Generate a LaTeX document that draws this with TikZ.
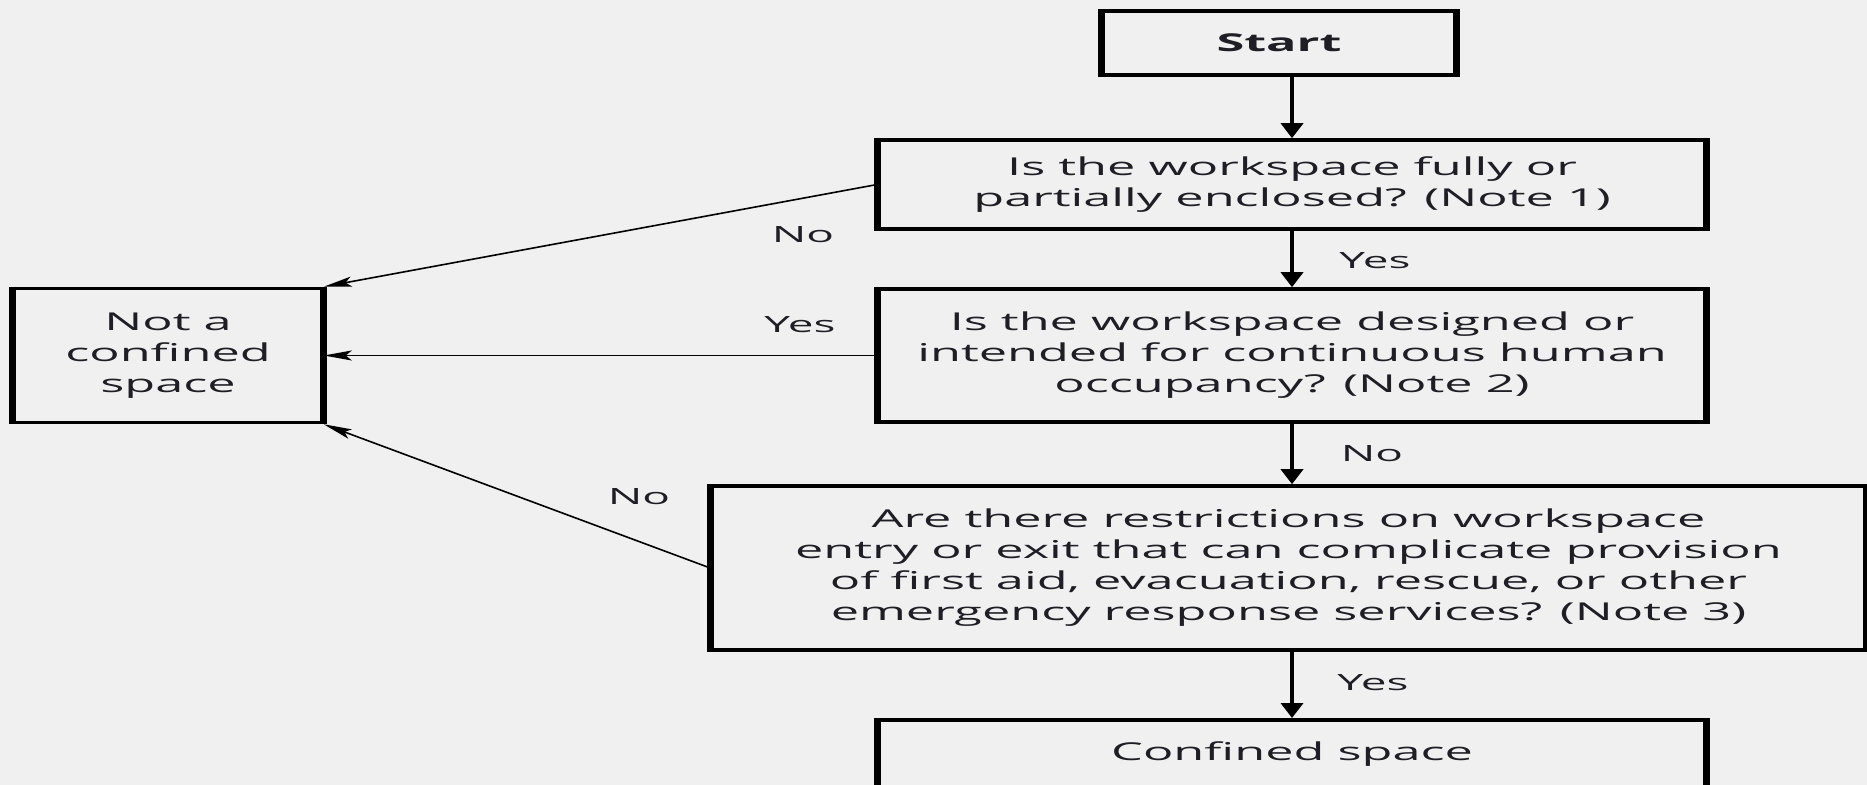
\documentclass[tikz,border=0pt]{standalone}
\usepackage{fontspec}
\usetikzlibrary{arrows.meta}
\newfontfamily\dfont[FakeStretch=2.05]{Open Sans}
\definecolor{bg}{HTML}{F0F0F0}
\definecolor{txt}{HTML}{1E1E24}
\tikzset{
  box/.style={draw=black, line width=1.8pt, align=center, inner sep=0pt, text=txt,
    font=\dfont\fontsize{12.3}{15.5}\selectfont,
    append after command={(\tikzlastnode.north west) edge[line width=3.5pt] (\tikzlastnode.south west)
                          (\tikzlastnode.north east) edge[line width=3.5pt] (\tikzlastnode.south east)}},
  lbl/.style={inner sep=0pt, text=txt, font=\dfont\fontsize{11.2}{13}\selectfont},
  down/.style={line width=2pt, -{Triangle[width=11pt,length=7.5pt]}},
  side/.style={line width=0.8pt, -{Stealth[length=14pt,width=5pt,inset=3pt]}},
}
\begin{document}
\begin{tikzpicture}[x=0.5pt,y=-0.5pt]
\useasboundingbox (0,0) rectangle (1867,785);
\fill[bg] (0,0) rectangle (1867,785);
\clip (0,0) rectangle (1867,785);
\node[box, minimum width=176pt, minimum height=32pt] (start) at (1279,43) {\bfseries Start};
\node[box, minimum width=413pt, minimum height=44.5pt] (q1) at (1292,184.5) {Is the workspace fully or\\partially enclosed? (Note 1)};
\node[box, minimum width=413pt, minimum height=66.5pt] (q2) at (1292,355.5) {Is the workspace designed or\\intended for continuous human\\occupancy? (Note 2)};
\node[box, minimum width=576.5pt, minimum height=82pt] (q3) at (1288.5,568) {Are there restrictions on workspace\\entry or exit that can complicate provision\\of first aid, evacuation, rescue, or other\\emergency response services? (Note 3)};
\node[box, minimum width=413pt, text height=20.5pt, text depth=16.5pt, anchor=north] (cs) at (1292,718) {Confined space};
\node[box, minimum width=154pt, minimum height=67pt] (nc) at (168,355.5) {Not a\\confined\\space};
% vertical arrows
\draw[down] (q1.north |- start.south) -- (q1.north);
\draw[down] (q1.south) -- (q2.north);
\draw[down] (q2.south) -- (q2.south |- q3.north);
\draw[down] (cs.north |- q3.south) -- (cs.north);
% side arrows
\draw[side] (q1.west) -- (nc.north east);
\draw[side] (q2.west) -- (nc.east);
\draw[side] (q3.west) -- (nc.south east);
% labels
\node[lbl] (l1) at (803,235) {No};
\node[lbl] (l2) at (1375,261) {Yes};
\node[lbl] (l3) at (800,325) {Yes};
\node[lbl] (l4) at (1372,454) {No};
\node[lbl] (l5) at (639,497) {No};
\node[lbl] (l6) at (1373,683) {Yes};
\end{tikzpicture}
\end{document}
